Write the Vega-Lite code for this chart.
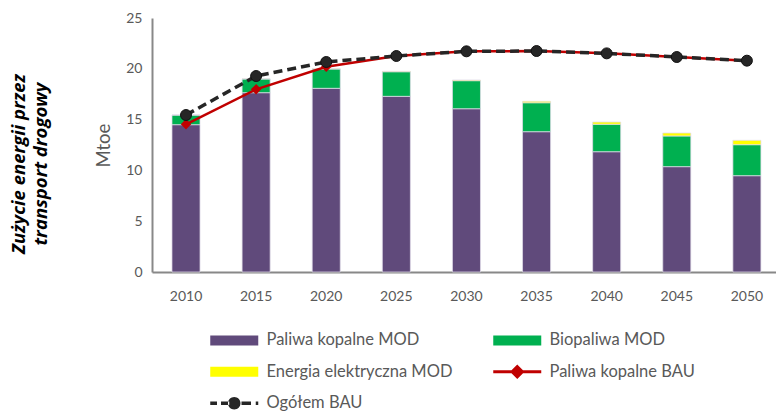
{
  "$schema": "https://vega.github.io/schema/vega-lite/v6.json",
  "autosize": {"type": "none"},
  "padding": {"left": 152, "top": 18, "right": 0, "bottom": 140},
  "width": 624,
  "height": 254,
  "background": "white",
  "config": {"font": "Lato", "view": {"stroke": null}},
  "title": {
    "text": ["Zużycie energii przez", "transport drogowy"],
    "orient": "left",
    "anchor": "middle",
    "frame": "group",
    "font": "Open Sans",
    "fontSize": 18.5,
    "fontStyle": "italic",
    "fontWeight": "bold",
    "color": "#000000",
    "lineHeight": 22,
    "offset": 44,
    "dx": -19
  },
  "data": {
    "values": [
      {"year": "2010", "series": "Paliwa kopalne MOD", "value": 14.5, "k": 1},
      {"year": "2015", "series": "Paliwa kopalne MOD", "value": 17.65, "k": 1},
      {"year": "2020", "series": "Paliwa kopalne MOD", "value": 18.08, "k": 1},
      {"year": "2025", "series": "Paliwa kopalne MOD", "value": 17.29, "k": 1},
      {"year": "2030", "series": "Paliwa kopalne MOD", "value": 16.07, "k": 1},
      {"year": "2035", "series": "Paliwa kopalne MOD", "value": 13.81, "k": 1},
      {"year": "2040", "series": "Paliwa kopalne MOD", "value": 11.84, "k": 1},
      {"year": "2045", "series": "Paliwa kopalne MOD", "value": 10.37, "k": 1},
      {"year": "2050", "series": "Paliwa kopalne MOD", "value": 9.48, "k": 1},
      {"year": "2010", "series": "Biopaliwa MOD", "value": 0.95, "k": 2},
      {"year": "2015", "series": "Biopaliwa MOD", "value": 1.35, "k": 2},
      {"year": "2020", "series": "Biopaliwa MOD", "value": 1.9, "k": 2},
      {"year": "2025", "series": "Biopaliwa MOD", "value": 2.42, "k": 2},
      {"year": "2030", "series": "Biopaliwa MOD", "value": 2.76, "k": 2},
      {"year": "2035", "series": "Biopaliwa MOD", "value": 2.85, "k": 2},
      {"year": "2040", "series": "Biopaliwa MOD", "value": 2.7, "k": 2},
      {"year": "2045", "series": "Biopaliwa MOD", "value": 3.02, "k": 2},
      {"year": "2050", "series": "Biopaliwa MOD", "value": 3.05, "k": 2},
      {"year": "2010", "series": "Energia elektryczna MOD", "value": 0.0, "k": 3},
      {"year": "2015", "series": "Energia elektryczna MOD", "value": 0.01, "k": 3},
      {"year": "2020", "series": "Energia elektryczna MOD", "value": 0.03, "k": 3},
      {"year": "2025", "series": "Energia elektryczna MOD", "value": 0.04, "k": 3},
      {"year": "2030", "series": "Energia elektryczna MOD", "value": 0.07, "k": 3},
      {"year": "2035", "series": "Energia elektryczna MOD", "value": 0.14, "k": 3},
      {"year": "2040", "series": "Energia elektryczna MOD", "value": 0.22, "k": 3},
      {"year": "2045", "series": "Energia elektryczna MOD", "value": 0.29, "k": 3},
      {"year": "2050", "series": "Energia elektryczna MOD", "value": 0.43, "k": 3},
      {"year": "2010", "series": "Paliwa kopalne BAU", "value": 14.54, "k": 4},
      {"year": "2015", "series": "Paliwa kopalne BAU", "value": 17.98, "k": 4},
      {"year": "2020", "series": "Paliwa kopalne BAU", "value": 20.2, "k": 4},
      {"year": "2025", "series": "Paliwa kopalne BAU", "value": 21.26, "k": 4},
      {"year": "2030", "series": "Paliwa kopalne BAU", "value": 21.72, "k": 4},
      {"year": "2035", "series": "Paliwa kopalne BAU", "value": 21.75, "k": 4},
      {"year": "2040", "series": "Paliwa kopalne BAU", "value": 21.52, "k": 4},
      {"year": "2045", "series": "Paliwa kopalne BAU", "value": 21.16, "k": 4},
      {"year": "2050", "series": "Paliwa kopalne BAU", "value": 20.8, "k": 4},
      {"year": "2010", "series": "Ogółem BAU", "value": 15.45, "k": 5},
      {"year": "2015", "series": "Ogółem BAU", "value": 19.29, "k": 5},
      {"year": "2020", "series": "Ogółem BAU", "value": 20.67, "k": 5},
      {"year": "2025", "series": "Ogółem BAU", "value": 21.26, "k": 5},
      {"year": "2030", "series": "Ogółem BAU", "value": 21.72, "k": 5},
      {"year": "2035", "series": "Ogółem BAU", "value": 21.75, "k": 5},
      {"year": "2040", "series": "Ogółem BAU", "value": 21.52, "k": 5},
      {"year": "2045", "series": "Ogółem BAU", "value": 21.16, "k": 5},
      {"year": "2050", "series": "Ogółem BAU", "value": 20.8, "k": 5}
    ]
  },
  "encoding": {
    "x": {
      "field": "year",
      "type": "nominal",
      "scale": {"paddingInner": 0.6, "paddingOuter": 0.25, "align": 0.57},
      "axis": {
        "title": null,
        "labelAngle": 0,
        "ticks": false,
        "domainColor": "#888888",
        "domainWidth": 2,
        "labelColor": "#595959",
        "labelFontSize": 14,
        "labelPadding": 17
      }
    },
    "y": {
      "field": "value",
      "type": "quantitative",
      "scale": {"domain": [0, 25], "nice": false},
      "axis": {
        "title": "Mtoe",
        "values": [0, 5, 10, 15, 20, 25],
        "grid": false,
        "ticks": false,
        "domainColor": "#888888",
        "domainWidth": 2,
        "labelColor": "#595959",
        "labelFontSize": 14,
        "labelPadding": 10,
        "titleColor": "#595959",
        "titleFontSize": 18.5,
        "titleFontWeight": "normal",
        "titlePadding": 12
      }
    },
    "color": {
      "field": "series",
      "type": "nominal",
      "scale": {
        "domain": ["Paliwa kopalne MOD", "Biopaliwa MOD", "Energia elektryczna MOD", "Paliwa kopalne BAU", "Ogółem BAU"],
        "range": ["#604A7B", "#00B050", "#FFFF00", "#C00000", "#262626"]
      },
      "legend": {
        "title": null,
        "orient": "none",
        "direction": "horizontal",
        "legendX": 74,
        "legendY": 314,
        "columns": 2,
        "columnPadding": 40,
        "rowPadding": 14.5,
        "symbolSize": 100,
        "symbolStrokeWidth": 0,
        "labelFontSize": 16.5,
        "labelColor": "#595959",
        "labelOffset": 24,
        "labelLimit": 400,
        "encode": {
          "symbols": {
            "update": {
              "shape": [
                {"test": "datum.value === 'Paliwa kopalne BAU'", "value": "M-4.8,-0.3H4.8V0.3H-4.8Z M0,-1.45L1.45,0L0,1.45L-1.45,0Z"},
                {"test": "datum.value === 'Ogółem BAU'", "value": "M-4.8,-0.36H-3.45V0.36H-4.8Z M-2.65,-0.36H-1V0.36H-2.65Z M-1.25,0A1.25,1.25 0 1 0 1.25,0A1.25,1.25 0 1 0 -1.25,0Z M1.45,-0.36H3.35V0.36H1.45Z M4.3,-0.36H4.8V0.36H4.3Z"},
                {"value": "M-4.8,-1H4.8V1H-4.8Z"}
              ],
              "fill": {"scale": "color", "field": "value"},
              "stroke": {"value": "transparent"},
              "strokeWidth": {"value": 0},
              "opacity": {"value": 1},
              "fillOpacity": {"value": 1}
            }
          }
        }
      }
    }
  },
  "layer": [
    {
      "transform": [{"filter": "datum.k <= 3"}],
      "mark": {"type": "bar", "stroke": "#e0dce8", "strokeWidth": 0.75},
      "encoding": {
        "order": {"field": "k", "type": "quantitative", "sort": "ascending"}
      }
    },
    {
      "transform": [{"filter": "datum.k === 4"}],
      "mark": {"type": "line", "strokeWidth": 2.5}
    },
    {
      "transform": [{"filter": "datum.k === 4"}],
      "mark": {"type": "point", "shape": "diamond", "filled": true, "size": 110, "opacity": 1}
    },
    {
      "transform": [{"filter": "datum.k === 5"}],
      "mark": {"type": "line", "strokeWidth": 3.5, "strokeDash": [9, 5]}
    },
    {
      "transform": [{"filter": "datum.k === 5"}],
      "mark": {"type": "point", "shape": "circle", "filled": true, "size": 120, "opacity": 1, "stroke": "#111111", "strokeWidth": 1}
    }
  ]
}
